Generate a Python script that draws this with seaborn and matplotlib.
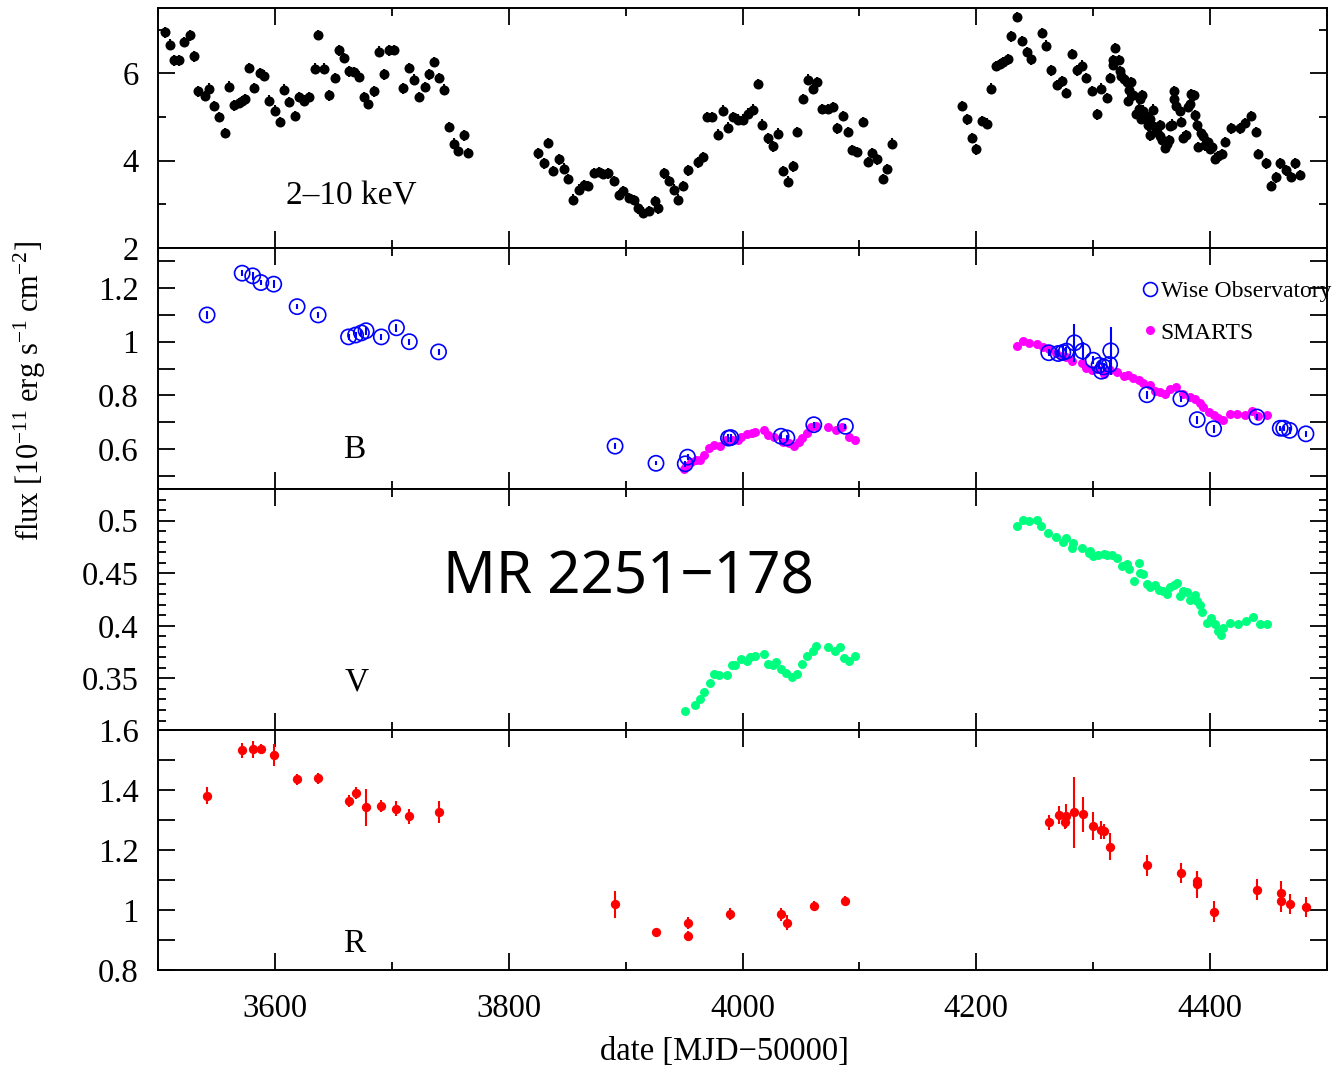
import matplotlib
matplotlib.use("Agg")
import matplotlib.pyplot as plt
from matplotlib.lines import Line2D
from matplotlib.ticker import MultipleLocator, FuncFormatter
import seaborn as sns

# ---------------- data ----------------
# 2-10 keV X-ray flux
xray_mjd = [3506, 3510, 3514, 3518, 3522, 3527, 3531, 3534, 3540, 3544, 3548, 3552, 3557,
            3561, 3565, 3569, 3572, 3574, 3578, 3582, 3587, 3591, 3595, 3600, 3604, 3608,
            3612, 3617, 3621, 3625, 3629, 3634, 3637, 3642, 3646, 3651, 3655, 3659, 3663,
            3668, 3672, 3676, 3680, 3685, 3689, 3693, 3698, 3702, 3710, 3715, 3719, 3723,
            3728, 3732, 3736, 3740, 3745, 3749, 3753, 3757, 3762, 3765,
            3825, 3830, 3834, 3838, 3843, 3847, 3851, 3855, 3860, 3864, 3868, 3873, 3877,
            3881, 3885, 3890, 3894, 3898, 3903, 3907, 3911, 3915, 3920, 3925, 3928, 3933,
            3937, 3941, 3945, 3949, 3953, 3962, 3966, 3970, 3974, 3979, 3983, 3988, 3992,
            3996, 4000, 4005, 4009, 4013, 4017, 4022, 4026, 4030, 4035, 4039, 4043, 4047,
            4052, 4056, 4060, 4064, 4068, 4073, 4077, 4081, 4086, 4090, 4094, 4098, 4103,
            4107, 4111, 4115, 4120, 4124, 4128,
            4188, 4192, 4196, 4200, 4205, 4209, 4213, 4217, 4220, 4223, 4227, 4230, 4235,
            4239, 4243, 4247, 4256, 4260, 4264, 4269, 4273, 4277, 4282, 4286, 4290, 4294,
            4299, 4303, 4307, 4312, 4314, 4317, 4317, 4319, 4322, 4323, 4324, 4326, 4329,
            4330, 4331, 4332, 4334, 4337, 4339, 4340, 4341, 4342, 4343, 4345, 4347, 4349,
            4349, 4351, 4353, 4355, 4357, 4357, 4359, 4361, 4363, 4365, 4366, 4367, 4369,
            4369, 4371, 4374, 4375, 4377, 4379, 4381, 4383, 4384, 4386, 4387, 4389, 4390,
            4392, 4394, 4396, 4398, 4400, 4402, 4404, 4407, 4410, 4413, 4418, 4426, 4430,
            4435, 4439, 4441, 4448, 4452, 4456, 4460, 4465, 4469, 4473, 4477]
xray_flux = [6.94, 6.66, 6.30, 6.30, 6.72, 6.87, 6.39, 5.59, 5.48, 5.65, 5.25, 5.00, 4.64,
             5.70, 5.27, 5.32, 5.36, 5.41, 6.12, 5.67, 6.01, 5.95, 5.38, 5.15, 4.89, 5.63,
             5.34, 5.02, 5.46, 5.38, 5.46, 6.11, 6.88, 6.11, 5.50, 5.90, 6.53, 6.36, 6.05,
             6.03, 5.93, 5.46, 5.31, 5.59, 6.50, 5.98, 6.53, 6.54, 5.66, 6.12, 5.86, 5.46,
             5.69, 5.98, 6.26, 5.90, 5.63, 4.77, 4.39, 4.22, 4.58, 4.18,
             4.17, 3.94, 4.41, 3.77, 4.03, 3.82, 3.58, 3.11, 3.34, 3.44, 3.42, 3.72, 3.74,
             3.69, 3.71, 3.54, 3.21, 3.30, 3.14, 3.10, 2.91, 2.81, 2.85, 3.07, 2.91, 3.71,
             3.53, 3.34, 3.11, 3.42, 3.78, 3.96, 4.09, 5.00, 5.00, 4.60, 5.15, 4.76, 5.00,
             4.94, 4.94, 5.08, 5.17, 5.76, 4.83, 4.51, 4.33, 4.62, 3.76, 3.52, 3.87, 4.66,
             5.41, 5.86, 5.65, 5.80, 5.19, 5.19, 5.23, 4.74, 5.02, 4.66, 4.24, 4.20, 4.89,
             3.97, 4.18, 4.03, 3.58, 3.81, 4.39,
             5.25, 4.95, 4.52, 4.26, 4.91, 4.85, 5.65, 6.17, 6.22, 6.26, 6.32, 6.85, 7.29,
             6.74, 6.49, 6.32, 6.93, 6.64, 6.07, 5.74, 5.82, 5.55, 6.45, 6.07, 6.18, 5.89,
             5.60, 5.06, 5.65, 5.44, 5.89, 6.20, 6.30, 6.58, 6.31, 6.05, 5.95, 5.88, 5.80,
             5.38, 5.61, 5.80, 5.50, 5.08, 5.19, 5.42, 4.96, 5.50, 5.15, 5.02, 4.81, 4.96,
             4.58, 5.17, 4.77, 4.66, 4.81, 4.56, 4.47, 4.29, 4.38, 4.48, 4.79, 4.83, 5.60,
             5.42, 5.25, 5.15, 4.89, 4.53, 4.58, 5.23, 5.29, 5.52, 5.50, 5.04, 4.81, 4.32,
             4.64, 4.56, 4.35, 4.43, 4.28, 4.32, 4.05, 4.10, 4.15, 4.43, 4.74, 4.74, 4.86,
             5.02, 4.66, 4.15, 3.94, 3.42, 3.62, 3.94, 3.78, 3.63, 3.94, 3.67]
xray_err = 0.12

# B band, Wise Observatory
wiseB_mjd = [3542, 3572, 3581, 3588, 3599, 3619, 3637, 3663, 3669, 3674, 3678, 3691, 3704,
             3715, 3740, 3891, 3926, 3951, 3953, 3988, 3990, 4033, 4038, 4061, 4088,
             4262, 4270, 4274, 4277, 4284, 4291, 4300, 4305, 4307, 4309, 4314, 4315,
             4346, 4375, 4389, 4403, 4440, 4460, 4463, 4468, 4482]
wiseB_flux = [1.100, 1.256, 1.246, 1.221, 1.215, 1.131, 1.100, 1.018, 1.025, 1.033, 1.041,
              1.018, 1.052, 1.000, 0.962, 0.610, 0.546, 0.544, 0.569, 0.640, 0.642, 0.647,
              0.641, 0.690, 0.684,
              0.959, 0.956, 0.960, 0.965, 0.996, 0.965, 0.931, 0.912, 0.890, 0.906, 0.915,
              0.966, 0.802, 0.787, 0.709, 0.675, 0.719, 0.677, 0.677, 0.669, 0.656]
wiseB_err = [0.015, 0.012, 0.015, 0.010, 0.015, 0.010, 0.010, 0.012, 0.012, 0.012, 0.015,
             0.012, 0.015, 0.012, 0.012, 0.012, 0.008, 0.012, 0.012, 0.015, 0.015, 0.012,
             0.012, 0.012, 0.010,
             0.012, 0.012, 0.030, 0.015, 0.070, 0.035, 0.015, 0.015, 0.015, 0.015, 0.015,
             0.090, 0.015, 0.012, 0.015, 0.015, 0.010, 0.010, 0.010, 0.012, 0.012]

# B band, SMARTS
smartsB_mjd = [3950, 3952, 3956, 3960, 3964, 3967, 3971, 3976, 3981, 3986, 3991, 3996, 3999,
               4004, 4008, 4011, 4018, 4022, 4027, 4035, 4040, 4044, 4048, 4051, 4055, 4059,
               4063, 4073, 4080, 4085, 4091, 4096,
               4235, 4240, 4245, 4252, 4257, 4262, 4268, 4273, 4277, 4282, 4290, 4294, 4299,
               4303, 4309, 4314, 4320, 4326, 4330, 4334, 4339, 4343, 4349, 4353, 4357, 4361,
               4366, 4371, 4377, 4383, 4387, 4391, 4394, 4399, 4403, 4407, 4411, 4417, 4423,
               4430, 4436, 4441, 4449]
smartsB_flux = [0.525, 0.537, 0.550, 0.559, 0.559, 0.578, 0.604, 0.616, 0.610, 0.634, 0.634,
                0.634, 0.646, 0.654, 0.659, 0.662, 0.669, 0.650, 0.644, 0.625, 0.621, 0.612,
                0.625, 0.640, 0.659, 0.681, 0.687, 0.681, 0.671, 0.681, 0.646, 0.634,
                0.985, 1.002, 0.994, 0.990, 0.981, 0.971, 0.959, 0.946, 0.944, 0.927, 0.919,
                0.902, 0.894, 0.900, 0.881, 0.896, 0.887, 0.871, 0.877, 0.865, 0.856, 0.846,
                0.840, 0.815, 0.812, 0.806, 0.822, 0.831, 0.806, 0.794, 0.785, 0.771, 0.756,
                0.737, 0.725, 0.715, 0.709, 0.729, 0.729, 0.727, 0.741, 0.722, 0.725]

# V band, SMARTS
smartsV_mjd = [3951, 3959, 3964, 3967, 3972, 3976, 3980, 3987, 3991, 3994, 3999, 4004, 4006,
               4011, 4018, 4022, 4026, 4029, 4033, 4037, 4042, 4047, 4051, 4055, 4060, 4063,
               4073, 4079, 4083, 4087, 4091, 4096,
               4235, 4240, 4245, 4252, 4255, 4261, 4268, 4274, 4277, 4282, 4283, 4290, 4296,
               4297, 4300, 4304, 4309, 4312, 4316, 4320, 4325, 4329, 4331, 4335, 4339, 4340,
               4343, 4346, 4349, 4353, 4356, 4360, 4363, 4366, 4369, 4372, 4374, 4377, 4380,
               4383, 4387, 4389, 4391, 4393, 4397, 4401, 4404, 4407, 4409, 4411, 4417, 4424,
               4431, 4437, 4443, 4449]
smartsV_flux = [0.319, 0.325, 0.330, 0.337, 0.346, 0.354, 0.353, 0.353, 0.363, 0.363, 0.368,
                0.367, 0.370, 0.371, 0.373, 0.364, 0.363, 0.366, 0.359, 0.355, 0.351, 0.354,
                0.364, 0.371, 0.376, 0.381, 0.380, 0.376, 0.380, 0.369, 0.367, 0.371,
                0.495, 0.501, 0.500, 0.501, 0.495, 0.488, 0.484, 0.480, 0.483, 0.474, 0.479,
                0.474, 0.469, 0.471, 0.466, 0.467, 0.468, 0.467, 0.467, 0.464, 0.457, 0.459,
                0.454, 0.443, 0.460, 0.450, 0.449, 0.440, 0.437, 0.439, 0.434, 0.433, 0.430,
                0.437, 0.439, 0.441, 0.428, 0.433, 0.432, 0.425, 0.429, 0.424, 0.420, 0.413,
                0.403, 0.407, 0.402, 0.395, 0.391, 0.398, 0.403, 0.402, 0.405, 0.408, 0.402,
                0.402]

# R band, Wise Observatory
wiseR_mjd = [3542, 3572, 3581, 3588, 3599, 3619, 3637, 3663, 3669, 3678, 3691, 3704, 3715,
             3740, 3891, 3926, 3953, 3953, 3989, 4033, 4038, 4061, 4088,
             4262, 4271, 4276, 4277, 4284, 4291, 4300, 4307, 4309, 4314, 4346, 4375, 4389,
             4389, 4403, 4440, 4461, 4461, 4468, 4482]
wiseR_flux = [1.381, 1.533, 1.536, 1.537, 1.517, 1.436, 1.439, 1.363, 1.389, 1.342, 1.347,
              1.337, 1.313, 1.326, 1.019, 0.926, 0.956, 0.914, 0.986, 0.986, 0.958, 1.014,
              1.031,
              1.292, 1.317, 1.294, 1.314, 1.326, 1.319, 1.280, 1.266, 1.263, 1.211, 1.150,
              1.124, 1.097, 1.086, 0.994, 1.067, 1.056, 1.030, 1.020, 1.009]
wiseR_err = [0.028, 0.025, 0.028, 0.018, 0.037, 0.018, 0.018, 0.020, 0.020, 0.062, 0.020,
             0.025, 0.025, 0.037, 0.044, 0.010, 0.020, 0.015, 0.020, 0.022, 0.025, 0.015,
             0.015,
             0.025, 0.030, 0.025, 0.040, 0.118, 0.058, 0.047, 0.030, 0.025, 0.045, 0.035,
             0.033, 0.030, 0.045, 0.035, 0.035, 0.040, 0.035, 0.032, 0.033]

# ---------------- style ----------------
sns.set_theme(style="ticks")
plt.rcParams["font.family"] = ["Liberation Serif", "DejaVu Serif"]
plt.rcParams["mathtext.fontset"] = "custom"
plt.rcParams["mathtext.rm"] = "Liberation Serif"
plt.rcParams["mathtext.it"] = "Liberation Serif:italic"
plt.rcParams["axes.linewidth"] = 1.4
for key in ("text.color", "axes.labelcolor", "xtick.color", "ytick.color",
            "axes.edgecolor"):
    plt.rcParams[key] = "black"

FS = 23.5
W, H = 1332, 1067
fig = plt.figure(figsize=(W / 100, H / 100), dpi=100)
left, right = 158 / W, 1327 / W
edges = [8, 248, 489, 730, 970]

axes = []
for i in range(4):
    top = 1 - edges[i] / H
    bot = 1 - edges[i + 1] / H
    ax = fig.add_axes([left, bot, right - left, top - bot],
                      sharex=axes[0] if axes else None)
    axes.append(ax)
ax1, ax2, ax3, ax4 = axes

fmt = FuncFormatter(lambda v, p: f"{v:g}")

# X-ray panel
ax1.errorbar(xray_mjd, xray_flux, yerr=xray_err, fmt="none", ecolor="black",
             elinewidth=1.5, capsize=0, zorder=2)
sns.scatterplot(x=xray_mjd, y=xray_flux, ax=ax1, color="black", s=52,
                linewidth=0, zorder=3)
ax1.set_ylim(2, 7.5)
ax1.yaxis.set_major_locator(MultipleLocator(2))
ax1.yaxis.set_minor_locator(MultipleLocator(1))
ax1.text(3665, 3.19, "2\u201310 keV", fontsize=24, ha="center", va="center")

# B panel
ax2.errorbar(wiseB_mjd, wiseB_flux, yerr=wiseB_err, fmt="none", ecolor="blue",
             elinewidth=1.5, capsize=0, zorder=4)
sns.scatterplot(x=smartsB_mjd, y=smartsB_flux, ax=ax2, color="#ff00ff", s=42,
                linewidth=0, zorder=2)
sns.scatterplot(x=wiseB_mjd, y=wiseB_flux, ax=ax2, marker="o", s=120,
                facecolor="none", edgecolor="blue", linewidth=1.2, zorder=3)
ax2.set_ylim(0.45, 1.35)
ax2.yaxis.set_major_locator(MultipleLocator(0.2))
ax2.yaxis.set_minor_locator(MultipleLocator(0.1))
ax2.text(3668, 0.597, "B", fontsize=24, ha="center", va="center")
handles = [Line2D([], [], ls="none", marker="o", ms=10, mfc="none", mec="blue", mew=1.2),
           Line2D([], [], ls="none", marker="o", ms=6.5, mfc="#ff00ff", mec="none")]
ax2.legend(handles, ["Wise Observatory", "SMARTS"], loc="upper left",
           bbox_to_anchor=(0.8435, 0.865), frameon=False, fontsize=17,
           handlelength=0.5, handletextpad=0.2, borderpad=0, borderaxespad=0,
           labelspacing=0.85)

# V panel
sns.scatterplot(x=smartsV_mjd, y=smartsV_flux, ax=ax3, color="#00ff7f", s=42,
                linewidth=0, zorder=3)
ax3.set_ylim(0.301, 0.530)
ax3.set_yticks([0.35, 0.40, 0.45, 0.50])
ax3.yaxis.set_minor_locator(MultipleLocator(0.01))
ax3.text(3670, 0.346, "V", fontsize=24, ha="center", va="center")
ax3.text(3902, 0.4455, "MR 2251\u2212178", fontsize=42,
         family=["Noto Sans", "DejaVu Sans"], ha="center", va="center")

# R panel
ax4.errorbar(wiseR_mjd, wiseR_flux, yerr=wiseR_err, fmt="none", ecolor="red",
             elinewidth=1.5, capsize=0, zorder=2)
sns.scatterplot(x=wiseR_mjd, y=wiseR_flux, ax=ax4, color="red", s=45,
                linewidth=0, zorder=3)
ax4.set_ylim(0.8, 1.6)
ax4.yaxis.set_major_locator(MultipleLocator(0.2))
ax4.yaxis.set_minor_locator(MultipleLocator(0.1))
ax4.text(3668, 0.886, "R", fontsize=24, ha="center", va="center")

ax4.set_xlim(3500, 4500)
ax4.xaxis.set_major_locator(MultipleLocator(200))
ax4.xaxis.set_minor_locator(MultipleLocator(100))

for i, ax in enumerate(axes):
    ax.yaxis.set_major_formatter(fmt)
    ax.tick_params(which="both", direction="in", top=True, right=True,
                   width=1.3, labelsize=FS, pad=14, colors="black")
    ax.tick_params(which="major", length=12)
    ax.tick_params(which="minor", length=6)
    if i in (1, 3):
        ax.tick_params(axis="y", which="minor", length=12)
    if i < 3:
        ax.tick_params(axis="x", labelbottom=False)
    ax.set_xlabel("")
    ax.set_ylabel("")
    for s in ax.spines.values():
        s.set_color("black")
        s.set_linewidth(1.4)
ax4.tick_params(axis="x", pad=17)

fig.text(724 / W, 1 - 1052 / H, "date [MJD\u221250000]", fontsize=FS,
         ha="center", va="center")
fig.text(30 / W, 1 - 391 / H,
         r"flux [10$^{\mathrm{-11}}$ erg s$^{\mathrm{-1}}$ cm$^{\mathrm{-2}}$]",
         fontsize=22, rotation=90, ha="center", va="center")

fig.savefig("out.png", dpi=100)
